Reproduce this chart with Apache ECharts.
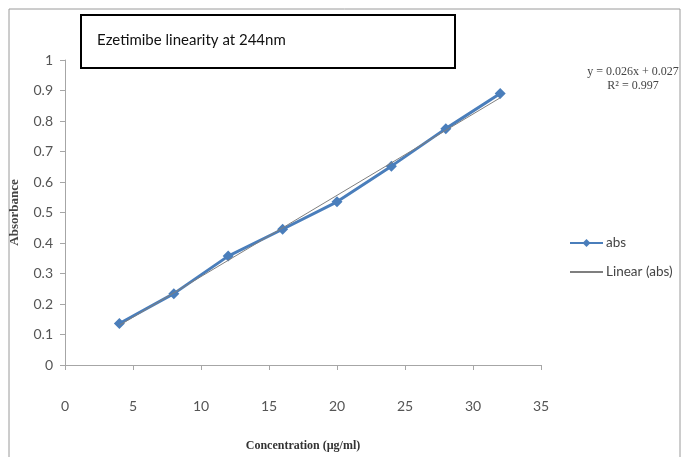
<!DOCTYPE html>
<html><head><meta charset="utf-8">
<script src="https://cdn.jsdelivr.net/npm/echarts@6/dist/echarts.min.js"></script>
<style>html,body{margin:0;padding:0;background:#fff}#c{width:682px;height:457px}</style>
</head><body><div id="c"></div>
<script>
const concentration = [4, 8, 12, 16, 20, 24, 28, 32];
const absorbance = [0.136, 0.234, 0.357, 0.445, 0.535, 0.652, 0.775, 0.89];
const trendX = [4, 32];
const trendY = [0.130, 0.876];
const xTicks = [0, 5, 10, 15, 20, 25, 30, 35];
const yTicks = [0, 0.1, 0.2, 0.3, 0.4, 0.5, 0.6, 0.7, 0.8, 0.9, 1];
const chartTitle = 'Ezetimibe linearity at 244nm';
const equation = ['y = 0.026x + 0.027', 'R² = 0.997'];

const chart = echarts.init(document.getElementById('c'));
chart.setOption({
  animation: false,
  backgroundColor: '#fff',
  grid: { left: 63, right: 141, top: 60, bottom: 89 },
  xAxis: {
    type: 'value', min: 0, max: 35, interval: 5,
    axisLine: { show: true, lineStyle: { color: '#a6a6a6', width: 1 } },
    axisTick: { show: true, length: 5, lineStyle: { color: '#a6a6a6' } },
    splitLine: { show: false },
    axisLabel: { color: '#555', fontFamily: 'Lato', fontSize: 14, margin: 34 },
    name: 'Concentration (µg/ml)', nameLocation: 'middle', nameGap: 75,
    nameTextStyle: { fontFamily: 'Liberation Serif', fontSize: 12, color: '#333', fontWeight: 'bold' }
  },
  yAxis: {
    type: 'value', min: 0, max: 1, interval: 0.1,
    axisLine: { show: true, lineStyle: { color: '#a6a6a6', width: 1 } },
    axisTick: { show: true, length: 5, lineStyle: { color: '#a6a6a6' } },
    splitLine: { show: false },
    axisLabel: { color: '#555', fontFamily: 'Lato', fontSize: 14, margin: 12,
      formatter: v => String(Math.round(v * 10) / 10) },
    name: 'Absorbance', nameLocation: 'middle', nameGap: 44,
    nameTextStyle: { fontFamily: 'Liberation Serif', fontSize: 13, color: '#444', fontWeight: 'bold' }
  },
  legend: {
    orient: 'vertical', left: 564, top: 231, itemGap: 15, itemWidth: 33, itemHeight: 10,
    textStyle: { fontFamily: 'Lato', fontSize: 13.5, color: '#444', padding: [0, 0, 0, -2] },
    data: [
      { name: 'abs' },
      { name: 'Linear (abs)', itemStyle: { opacity: 0 } }
    ]
  },
  series: [
    {
      name: 'abs', type: 'line',
      data: concentration.map((x, i) => [x, absorbance[i]]),
      symbol: 'diamond', symbolSize: 11,
      lineStyle: { color: '#4a7ebb', width: 3 },
      itemStyle: { color: '#4a7ebb' }, z: 2
    },
    {
      name: 'Linear (abs)', type: 'line',
      data: trendX.map((x, i) => [x, trendY[i]]),
      symbol: 'none',
      lineStyle: { color: '#7f7f7f', width: 1 },
      itemStyle: { color: '#7f7f7f' }, z: 3
    }
  ],
  graphic: [
    { type: 'rect', shape: { x: 9, y: 9, width: 671, height: 460 }, style: { fill: 'none', stroke: '#9a9a9a', lineWidth: 1 }, silent: true },
    { type: 'rect', shape: { x: 81, y: 15, width: 374, height: 53 }, style: { fill: '#fff', stroke: '#000', lineWidth: 2 }, z: 10 },
    { type: 'text', x: 97, y: 40, style: { text: chartTitle, fontFamily: 'Lato', fontSize: 15, fill: '#111', verticalAlign: 'middle' }, z: 11 },
    { type: 'text', x: 633, y: 72, style: { text: equation[0], fontFamily: 'Liberation Serif', fontSize: 12, fill: '#444', align: 'center', verticalAlign: 'middle' } },
    { type: 'text', x: 633, y: 86, style: { text: equation[1], fontFamily: 'Liberation Serif', fontSize: 12, fill: '#444', align: 'center', verticalAlign: 'middle' } }
  ]
});
</script></body></html>
